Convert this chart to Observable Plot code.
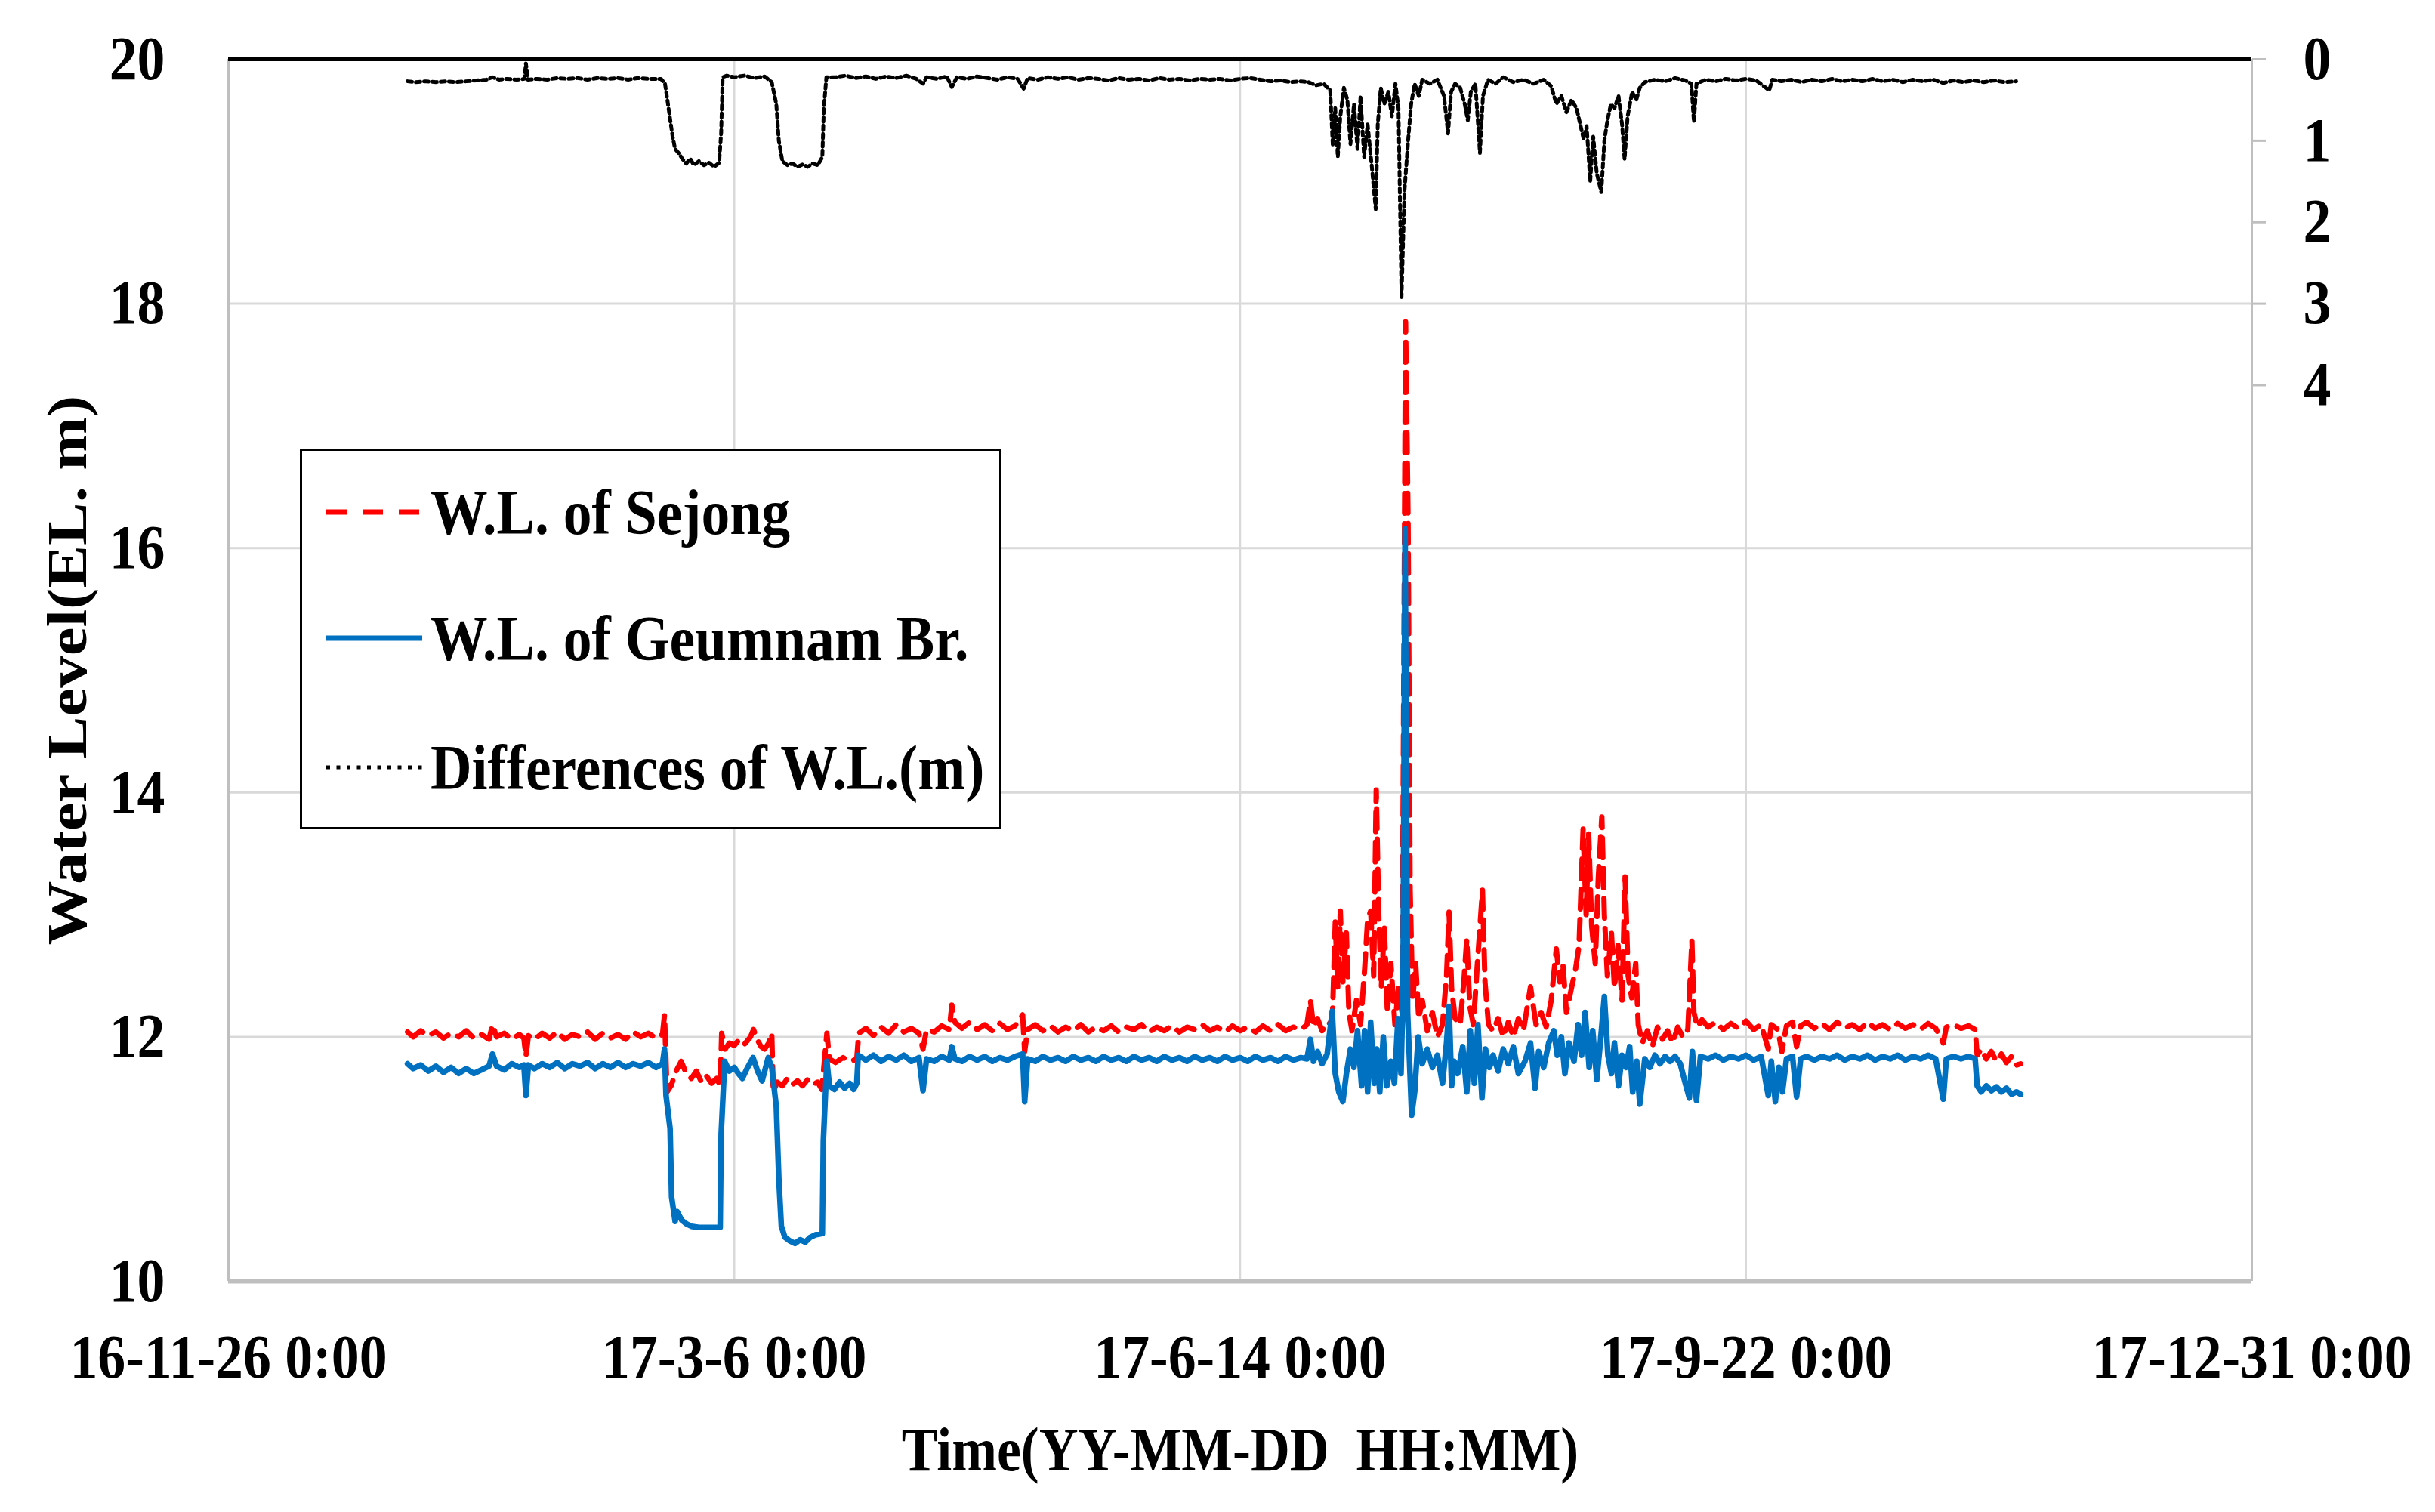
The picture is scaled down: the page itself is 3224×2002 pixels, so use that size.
<!DOCTYPE html>
<html>
<head>
<meta charset="utf-8">
<script src="https://cdn.jsdelivr.net/npm/d3@7"></script>
<script src="https://cdn.jsdelivr.net/npm/@observablehq/plot@0.6"></script>
<style>
  body { margin: 0; background: #fff; }
  #wrap { position: relative; width: 3224px; height: 2002px; background: #fff; }
  #legend { position: absolute; left: 397px; top: 594px; width: 923px; height: 498px;
            border: 3px solid #000; background: #fff;
            font-family: 'Liberation Serif', 'Times New Roman', serif; font-weight: bold; font-size: 84px; color: #000; }
  #legend .row { position: absolute; left: 32px; height: 100px; display: flex; align-items: center; white-space: nowrap; }
  #legend .row span { display: inline-block; margin-left: 11px; transform: scaleX(0.9); transform-origin: left center; }
</style>
</head>
<body>
<div id="wrap"></div>
<script>
// ---------- data (day = days after 2016-11-26 0:00) ----------
const startDate = "2016-11-26";
const xTickDates = ["2016-11-26", "2017-03-06", "2017-06-14", "2017-09-22", "2017-12-31"];
const xTickLabels = ["16-11-26 0:00", "17-3-6 0:00", "17-6-14 0:00", "17-9-22 0:00", "17-12-31 0:00"];
const yTicks = [10, 12, 14, 16, 18, 20];
const diffTicks = [0, 1, 2, 3, 4];
const diffAxisMax = 15;
const seriesNames = ["W.L. of Sejong", "W.L. of Geumnam Br.", "Differences of W.L.(m)"];

// W.L. of Sejong (m)
const sejong = [[35.4,12.04],[36.5,12.00],[38,12.05],[39.5,12.01],[41,12.04],[42.5,11.99],[44,12.03],[45.5,12.00],[47,12.05],[48.5,11.99],[50,12.02],[51.5,11.98],[52.2,12.10],[53,12.00],[54.5,12.03],[56,11.98],[57.5,12.02],[58.4,11.99],[58.8,11.84],[59.3,12.01],[60.5,11.98],[62,12.03],[63.5,11.99],[65,12.04],[66.5,11.98],[68,12.02],[69.5,12.00],[71,12.04],[72.5,11.98],[74,12.03],[75.5,11.99],[77,12.02],[78.5,11.98],[80,12.04],[81.5,12.00],[83,12.03],[84.5,11.99],[85.8,12.02],[86.2,12.18],[86.7,11.55],[87.5,11.60],[88.5,11.72],[89.5,11.80],[90.5,11.70],[91.5,11.66],[92.5,11.72],[93.5,11.63],[94.5,11.68],[95.5,11.62],[96.5,11.66],[97.2,11.60],[97.5,12.03],[98.2,11.90],[99,11.95],[100,11.93],[101,11.98],[102,11.94],[103.2,12.00],[103.8,12.06],[104.5,11.98],[105.3,11.92],[106,11.90],[106.8,11.95],[107.4,12.03],[107.7,11.55],[108.5,11.63],[109.5,11.60],[110.5,11.66],[111.5,11.61],[112.5,11.64],[113.5,11.60],[114.5,11.65],[115.5,11.61],[116.5,11.63],[117.3,11.57],[117.8,11.80],[118.3,12.03],[118.8,11.82],[120,11.79],[121.5,11.83],[123,11.80],[124.2,11.82],[124.6,12.03],[126,12.07],[127.5,12.01],[129,12.08],[130.5,12.03],[132,12.10],[133.5,12.04],[135,12.07],[136.5,12.03],[137.3,11.90],[138,12.06],[139.5,12.04],[141,12.09],[142.5,12.06],[143,12.26],[143.6,12.12],[145,12.07],[146.5,12.12],[148,12.06],[149.5,12.10],[151,12.05],[152.5,12.11],[154,12.06],[155.5,12.09],[157,12.18],[157.4,11.88],[158,12.06],[159.5,12.10],[161,12.05],[162.5,12.09],[164,12.04],[165.5,12.08],[167,12.05],[168.5,12.10],[170,12.04],[171.5,12.08],[173,12.05],[174.5,12.09],[176,12.04],[177.5,12.08],[179,12.06],[180.5,12.10],[182,12.04],[183.5,12.08],[185,12.05],[186.5,12.09],[188,12.04],[189.5,12.08],[191,12.06],[192.5,12.10],[194,12.05],[195.5,12.08],[197,12.04],[198.5,12.09],[200,12.05],[201.5,12.08],[203,12.04],[204.5,12.09],[206,12.05],[207.5,12.10],[209,12.05],[210.5,12.08],[212,12.06],[213.2,12.10],[213.9,12.30],[214.5,12.08],[215.3,12.15],[216.2,12.05],[217.2,12.12],[218.2,12.10],[218.8,12.94],[219.3,12.40],[219.8,13.03],[220.3,12.45],[221,12.85],[221.5,12.20],[222.1,12.05],[223,12.30],[223.8,12.10],[224.6,12.55],[225.2,12.96],[225.8,13.03],[226.4,12.50],[226.9,14.02],[227.4,13.00],[227.9,12.40],[228.5,12.90],[229.1,12.20],[229.8,12.60],[230.6,12.10],[231.3,12.40],[232.0,12.20],[232.7,17.85],[233.2,16.20],[233.6,13.20],[234.1,12.30],[234.7,12.60],[235.3,12.15],[236,12.30],[237,12.05],[238,12.20],[239,12.00],[240,12.10],[240.8,12.50],[241.3,13.02],[241.8,12.40],[242.5,12.15],[243.5,12.10],[244.3,12.50],[244.8,12.80],[245.4,12.25],[246.1,12.10],[246.9,12.60],[247.9,13.20],[248.4,12.45],[249.1,12.10],[250,12.05],[251,12.15],[252,12.00],[253,12.12],[254,12.00],[255,12.15],[256,12.05],[257.4,12.41],[258.5,12.10],[259.5,12.20],[260.5,12.08],[261.5,12.30],[262.5,12.72],[263.2,12.45],[263.8,12.60],[264.5,12.20],[265.5,12.40],[266.3,12.55],[267,12.75],[267.8,13.70],[268.4,13.00],[268.9,13.66],[269.5,12.90],[270.2,12.60],[270.8,13.30],[271.5,13.80],[272,13.00],[272.6,12.50],[273.4,12.85],[274,12.40],[274.7,12.75],[275.5,12.30],[276.1,13.31],[276.7,12.50],[277.4,12.32],[278.2,12.60],[278.7,12.10],[279.5,11.95],[280.5,12.05],[281.5,11.92],[282.5,12.08],[283.5,11.98],[284.5,12.05],[285.5,11.95],[286.5,12.08],[287.5,12.00],[288.5,12.06],[289.3,12.79],[289.7,12.20],[290.4,12.08],[291.3,12.14],[292.5,12.08],[294,12.12],[295.5,12.06],[297,12.11],[298.5,12.07],[300,12.13],[301.5,12.06],[303,12.10],[304.4,11.90],[305,12.10],[306.3,12.06],[307.1,11.88],[308,12.09],[309.2,12.12],[310,11.92],[310.8,12.09],[312,12.12],[313.5,12.07],[315,12.11],[316.5,12.06],[318,12.12],[319.5,12.07],[321,12.10],[322.5,12.06],[324,12.12],[325.5,12.07],[327,12.10],[328.5,12.06],[330,12.11],[331.5,12.07],[333,12.10],[334.5,12.06],[336,12.11],[337.5,12.07],[339,11.95],[339.6,12.08],[341,12.10],[342.5,12.07],[344,12.09],[345.3,12.06],[345.7,11.85],[346.5,11.90],[347.5,11.82],[348.5,11.88],[349.5,11.80],[350.5,11.86],[351.5,11.79],[352.5,11.84],[353.5,11.77],[354.3,11.78]];

// W.L. of Geumnam Br. (m)
const geumnam = [[35.4,11.78],[36.5,11.74],[38,11.77],[39.5,11.72],[41,11.76],[42.5,11.71],[44,11.75],[45.5,11.70],[47,11.74],[48.5,11.70],[50,11.73],[51.5,11.76],[52.2,11.86],[53,11.76],[54.5,11.73],[56,11.78],[57.5,11.75],[58.4,11.77],[58.8,11.52],[59.3,11.77],[60.5,11.74],[62,11.78],[63.5,11.75],[65,11.79],[66.5,11.74],[68,11.78],[69.5,11.76],[71,11.79],[72.5,11.74],[74,11.78],[75.5,11.75],[77,11.79],[78.5,11.75],[80,11.78],[81.5,11.76],[83,11.79],[84.5,11.75],[85.8,11.78],[86.2,11.90],[86.5,11.52],[87.3,11.25],[87.6,10.69],[88.3,10.49],[88.7,10.57],[89.6,10.50],[90.5,10.47],[91.5,10.45],[93,10.44],[95,10.44],[97.2,10.44],[97.4,11.21],[98.1,11.80],[99,11.72],[100,11.75],[100.8,11.70],[101.6,11.66],[102.5,11.74],[103.7,11.83],[104.6,11.72],[105.5,11.64],[106.7,11.83],[107.4,11.75],[108.3,11.43],[108.8,10.84],[109.3,10.45],[110,10.36],[111,10.33],[112,10.31],[113,10.34],[114,10.32],[115,10.36],[116,10.38],[117.4,10.39],[117.6,11.15],[118.3,11.80],[118.8,11.60],[119.8,11.57],[120.8,11.63],[121.8,11.58],[122.8,11.62],[123.6,11.57],[124.2,11.62],[124.5,11.85],[126,11.81],[127.5,11.85],[129,11.80],[130.5,11.84],[132,11.81],[133.5,11.85],[135,11.80],[136.5,11.83],[137.3,11.56],[138,11.82],[139.5,11.80],[141,11.84],[142.5,11.81],[143,11.92],[143.6,11.82],[145,11.80],[146.5,11.84],[148,11.81],[149.5,11.84],[151,11.80],[152.5,11.83],[154,11.81],[155.5,11.84],[157,11.86],[157.4,11.47],[158,11.82],[159.5,11.80],[161,11.84],[162.5,11.81],[164,11.83],[165.5,11.80],[167,11.84],[168.5,11.81],[170,11.83],[171.5,11.80],[173,11.84],[174.5,11.81],[176,11.83],[177.5,11.80],[179,11.84],[180.5,11.81],[182,11.83],[183.5,11.80],[185,11.84],[186.5,11.81],[188,11.83],[189.5,11.80],[191,11.84],[192.5,11.81],[194,11.83],[195.5,11.80],[197,11.84],[198.5,11.81],[200,11.83],[201.5,11.80],[203,11.84],[204.5,11.81],[206,11.83],[207.5,11.80],[209,11.84],[210.5,11.81],[212,11.83],[213.2,11.82],[213.9,11.98],[214.5,11.80],[215.3,11.88],[216.2,11.78],[217.2,11.86],[218.2,12.21],[218.8,11.70],[219.5,11.55],[220.3,11.47],[221,11.70],[221.8,11.90],[222.5,11.75],[223.2,12.05],[224,11.60],[224.6,12.05],[225.2,11.55],[225.8,12.12],[226.5,11.62],[227,11.90],[227.6,11.55],[228.3,12.00],[229,11.60],[229.8,11.80],[230.5,11.62],[231.2,12.15],[231.8,11.70],[232.2,12.40],[232.6,16.16],[233.1,12.20],[233.9,11.36],[234.5,11.55],[235.2,12.00],[236,11.78],[237,11.90],[238,11.75],[239,11.85],[240,11.62],[240.8,11.95],[241.3,12.25],[241.8,11.60],[242.3,11.80],[243,11.70],[244,11.92],[244.8,11.55],[245.5,12.05],[246.3,11.62],[247,12.10],[247.8,11.50],[248.5,11.90],[249.3,11.75],[250,11.85],[251,11.72],[252,11.90],[253,11.78],[254,11.92],[255,11.70],[256.3,11.80],[257.4,11.95],[258.3,11.58],[259,11.88],[260,11.75],[261,11.95],[262,12.05],[262.7,11.85],[263.5,12.00],[264.2,11.70],[265,11.95],[266,11.80],[266.8,12.10],[267.5,11.85],[268.2,12.20],[269,11.75],[269.7,12.05],[270.5,11.65],[271.2,11.95],[272,12.33],[272.7,11.85],[273.4,11.70],[274,11.95],[274.8,11.60],[275.5,11.85],[276.3,11.75],[277,11.92],[277.6,11.55],[278.4,11.80],[279,11.45],[280,11.82],[281,11.75],[282,11.85],[283,11.78],[284,11.84],[285,11.80],[286,11.84],[287,11.78],[288,11.62],[288.8,11.50],[289.4,11.88],[290.2,11.48],[291,11.84],[292.5,11.82],[294,11.85],[295.5,11.81],[297,11.84],[298.5,11.82],[300,11.85],[301.5,11.81],[303,11.84],[304.4,11.52],[305,11.80],[305.8,11.47],[306.5,11.75],[307.2,11.55],[308,11.82],[309.2,11.84],[310,11.51],[310.8,11.82],[312,11.84],[313.5,11.81],[315,11.84],[316.5,11.82],[318,11.85],[319.5,11.81],[321,11.84],[322.5,11.82],[324,11.85],[325.5,11.81],[327,11.84],[328.5,11.82],[330,11.85],[331.5,11.81],[333,11.84],[334.5,11.82],[336,11.85],[337.5,11.82],[339,11.49],[339.6,11.82],[341,11.84],[342.5,11.82],[344,11.84],[345.3,11.82],[345.7,11.60],[346.5,11.55],[347.5,11.60],[348.5,11.56],[349.5,11.59],[350.5,11.55],[351.5,11.58],[352.5,11.53],[353.5,11.55],[354.3,11.53]];

// Differences of W.L. (m), right axis
const difference = [[35.4,0.27],[37,0.28],[39,0.27],[41,0.28],[43,0.27],[45,0.28],[47,0.27],[49,0.26],[51,0.25],[52.2,0.22],[53.5,0.25],[55,0.24],[57,0.25],[58.5,0.24],[58.8,0.05],[59.2,0.25],[61,0.24],[63,0.25],[65,0.23],[67,0.24],[69,0.23],[71,0.25],[73,0.23],[75,0.24],[77,0.23],[79,0.25],[81,0.23],[83,0.24],[85.5,0.24],[86.3,0.30],[87,0.60],[87.8,0.95],[88.3,1.10],[89,1.15],[89.7,1.22],[90.5,1.28],[91.3,1.22],[92,1.30],[93,1.25],[94,1.30],[95,1.27],[96,1.32],[97,1.27],[97.4,0.90],[97.7,0.22],[98.5,0.20],[100,0.22],[102,0.20],[104,0.23],[106,0.21],[107.4,0.28],[108.3,0.55],[108.8,1.00],[109.5,1.25],[110.5,1.30],[111.5,1.28],[112.5,1.32],[113.5,1.29],[114.5,1.32],[115.5,1.28],[116.5,1.30],[117.4,1.20],[117.7,0.60],[118.2,0.22],[120,0.22],[122,0.20],[124,0.23],[126,0.21],[128,0.24],[130,0.21],[132,0.23],[134,0.20],[136,0.24],[137.3,0.30],[138,0.22],[140,0.24],[142,0.21],[143,0.34],[144,0.22],[146,0.24],[148,0.21],[150,0.23],[152,0.25],[154,0.22],[156,0.24],[157.2,0.36],[158,0.23],[160,0.25],[162,0.22],[164,0.24],[166,0.22],[168,0.25],[170,0.23],[172,0.24],[174,0.26],[176,0.23],[178,0.25],[180,0.24],[182,0.26],[184,0.23],[186,0.25],[188,0.24],[190,0.26],[192,0.24],[194,0.25],[196,0.24],[198,0.26],[200,0.24],[202,0.23],[204,0.25],[206,0.27],[208,0.26],[210,0.28],[212,0.27],[213.5,0.28],[215,0.32],[216.5,0.30],[217.8,0.38],[218.3,1.05],[218.8,0.60],[219.3,1.20],[219.8,0.70],[220.5,0.35],[221.2,0.50],[221.8,1.04],[222.5,0.55],[223.2,1.10],[223.8,0.45],[224.5,1.20],[225.2,0.80],[226,1.30],[226.8,1.84],[227.2,0.80],[227.8,0.35],[228.5,0.55],[229.3,0.40],[230,0.70],[230.7,0.30],[231.3,0.60],[231.9,2.92],[232.5,1.60],[233.2,1.00],[233.8,0.55],[234.5,0.30],[235.3,0.45],[236,0.25],[237.5,0.30],[239,0.25],[240.3,0.45],[241.1,0.91],[241.7,0.40],[242.5,0.30],[243.5,0.35],[244.4,0.55],[245,0.75],[245.6,0.40],[246.5,0.30],[247.4,1.15],[248,0.45],[249,0.25],[250.5,0.30],[252,0.22],[254,0.28],[256,0.25],[258,0.30],[260,0.25],[261.5,0.33],[262.5,0.55],[263.5,0.45],[264.5,0.65],[265.5,0.50],[266.5,0.60],[267.9,0.98],[268.5,0.82],[269.2,1.50],[269.8,0.95],[270.5,1.40],[271.4,1.63],[272,1.00],[272.6,0.75],[273.3,0.55],[274,0.60],[274.8,0.45],[275.5,0.80],[276,1.23],[276.6,0.70],[277.5,0.40],[278.3,0.50],[279,0.35],[280,0.28],[282,0.25],[284,0.27],[286,0.23],[288,0.26],[289.2,0.30],[289.7,0.77],[290.2,0.30],[292,0.25],[294,0.27],[296,0.24],[298,0.26],[300,0.24],[302,0.26],[304.6,0.38],[305.2,0.25],[307,0.27],[309,0.25],[311,0.28],[313,0.25],[315,0.27],[317,0.24],[319,0.27],[321,0.25],[323,0.27],[325,0.24],[327,0.27],[329,0.25],[331,0.28],[333,0.25],[335,0.27],[337,0.25],[339,0.29],[341,0.26],[343,0.28],[345,0.26],[347,0.28],[349,0.26],[351,0.28],[353.4,0.27]];

// ---------- build ----------
const t0 = Date.parse(startDate + "T00:00:00Z");
const toDate = d => new Date(t0 + d * 864e5);
const xTicks = xTickDates.map(s => new Date(s + "T00:00:00Z"));
const tickLabelByTime = new Map(xTicks.map((d, i) => [+d, xTickLabels[i]]));
const yMin = yTicks[0], yMax = yTicks[yTicks.length - 1];
const diffToY = v => yMax - v * (yMax - yMin) / diffAxisMax;
const yToDiff = y => Math.round((yMax - y) * diffAxisMax / (yMax - yMin));

const sejongData = sejong.map(([d, v]) => ({date: toDate(d), level: v}));
const geumnamData = geumnam.map(([d, v]) => ({date: toDate(d), level: v}));
const diffData = difference.map(([d, v]) => ({date: toDate(d), diff: v}));

const RED = "#ff0000", BLUE = "#0070c0";
const GRID = "#d9d9d9", FRAME = "#bfbfbf";

const chart = Plot.plot({
  width: 3224,
  height: 2002,
  marginLeft: 302,
  marginRight: 243,
  marginTop: 78,
  marginBottom: 306,
  style: {
    fontFamily: "'Liberation Serif', 'Times New Roman', serif",
    fontWeight: "bold",
    fontSize: "82px",
    color: "#000",
    background: "#fff",
    overflow: "visible"
  },
  x: {type: "utc", domain: [xTicks[0], xTicks[xTicks.length - 1]]},
  y: {domain: [yMin, yMax]},
  marks: [
    Plot.gridY(yTicks.slice(1, -1), {stroke: GRID, strokeOpacity: 1, strokeWidth: 3}),
    Plot.gridX(xTicks.slice(1, -1), {stroke: GRID, strokeOpacity: 1, strokeWidth: 2.5}),
    Plot.ruleX([xTicks[0]], {stroke: FRAME, strokeWidth: 3}),
    Plot.ruleX([xTicks[xTicks.length - 1]], {stroke: FRAME, strokeWidth: 3}),
    Plot.ruleY([yMin], {stroke: FRAME, strokeWidth: 6}),
    Plot.lineY(sejongData, {x: "date", y: "level", stroke: RED, strokeWidth: 7, strokeDasharray: "26,14", curve: "linear"}),
    Plot.lineY(geumnamData, {x: "date", y: "level", stroke: BLUE, strokeWidth: 7.5, curve: "linear"}),
    Plot.lineY(diffData, {x: "date", y: d => diffToY(d.diff), stroke: "#000", strokeWidth: 5, strokeDasharray: "6,5", curve: "linear"}),
    Plot.ruleY([yMax], {stroke: "#000", strokeWidth: 5}),
    Plot.axisY(yTicks, {anchor: "left", tickSize: 0, tickPadding: 84, tickFormat: d => String(d),
      label: "Water Level(EL. m)", labelAnchor: "center", labelOffset: 240, labelArrow: false}),
    Plot.axisY(diffTicks.map(diffToY), {anchor: "right", tickSize: 18, tickPadding: 50, stroke: FRAME, strokeWidth: 3,
      tickFormat: y => String(yToDiff(y)), label: null}),
    Plot.axisX(xTicks, {anchor: "bottom", tickSize: 0, tickPadding: 69, tickFormat: d => tickLabelByTime.get(+d),
      label: "Time(YY-MM-DD  HH:MM)", labelAnchor: "center", labelOffset: 250, labelArrow: false})
  ]
});

document.getElementById("wrap").appendChild(chart);

// condense horizontal text like the original (narrow Times bold)
d3.select(chart).selectAll('g[aria-label="y-axis tick label"] text, g[aria-label="x-axis tick label"] text')
  .each(function () {
    const t = this.getAttribute("transform") || "";
    this.setAttribute("transform", t + " scale(0.9,1)");
  });
d3.select(chart).selectAll('g[aria-label="x-axis label"] text')
  .style("white-space", "pre").style("font-size", "82px")
  .each(function () {
    const t = this.getAttribute("transform") || "";
    this.setAttribute("transform", t + " scale(0.875,1)");
  });
d3.select(chart).selectAll('g[aria-label="y-axis label"] text')
  .style("font-size", "85px")
  .each(function () {
    const t = this.getAttribute("transform") || "";
    this.setAttribute("transform", t + " scale(1,0.86)");
  });

// ---------- legend (inside plot area, like the original) ----------
const legend = document.createElement("div");
legend.id = "legend";
const legendRows = [
  {name: seriesNames[0], stroke: RED, width: 7, dash: "27,21", top: 31},
  {name: seriesNames[1], stroke: BLUE, width: 7, dash: null, top: 198},
  {name: seriesNames[2], stroke: "#000", width: 5, dash: "5,8.5", top: 369}
];
legendRows.forEach(r => {
  const row = document.createElement("div");
  row.className = "row";
  row.style.top = r.top + "px";
  row.innerHTML =
    `<svg width="127" height="20" style="display:block"><line x1="0" y1="10" x2="127" y2="10" stroke="${r.stroke}" stroke-width="${r.width}"${r.dash ? ` stroke-dasharray="${r.dash}"` : ""}/></svg>` +
    `<span>${r.name}</span>`;
  legend.appendChild(row);
});
document.getElementById("wrap").appendChild(legend);
</script>
</body>
</html>
